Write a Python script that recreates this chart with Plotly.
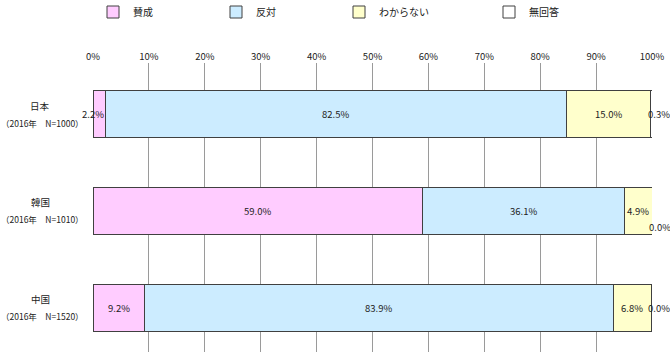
import plotly.graph_objects as go

countries = ["日本", "韓国", "中国"]
subtitles = ["（2016年　N=1000）", "（2016年　N=1010）", "（2016年　N=1520）"]
series_names = ["賛成", "反対", "わからない", "無回答"]
series_colors = ["#FFCCFF", "#CCECFF", "#FFFFCC", "#FFFFFF"]
values = {
    "賛成": [2.2, 59.0, 9.2],
    "反対": [82.5, 36.1, 83.9],
    "わからない": [15.0, 4.9, 6.8],
    "無回答": [0.3, 0.0, 0.0],
}
x_ticks = [0, 10, 20, 30, 40, 50, 60, 70, 80, 90, 100]

FONT = "Noto Sans CJK JP, Meiryo, sans-serif"
W, H = 670, 352
ML, MR, MT, MB = 93, 18, 63, 0
PW = W - ML - MR

fig = go.Figure()
legend_ids = ["legend", "legend2", "legend3", "legend4"]
legend_text_x = [133, 256, 379, 529]
ypos = list(range(len(countries)))
for i, name in enumerate(series_names):
    fig.add_trace(go.Bar(
        name=name, orientation="h", y=ypos, x=values[name],
        marker=dict(color=series_colors[i], line=dict(color="#404040", width=1)),
        width=0.485, legend=legend_ids[i], hoverinfo="x+name",
    ))

# data labels
annotations = []
for j in range(len(countries)):
    cum = 0.0
    for i, name in enumerate(series_names):
        v = values[name][j]
        center = cum + v / 2
        cum += v
        xshift, yshift = 0, 0
        if name == "賛成" and v < 5:
            xshift = -6
        if name == "無回答":
            xshift = 8
            if j == 1:
                yshift = -16
        annotations.append(dict(
            x=center, y=j, xref="x", yref="y", text=f"{v:.1f}%",
            showarrow=False, xshift=xshift, yshift=yshift,
            font=dict(family=FONT, size=9.5, color="#222222"),
        ))
    annotations.append(dict(
        x=(40 - ML) / PW, y=j, xref="paper", yref="y", xanchor="center", yanchor="middle",
        text=countries[j], showarrow=False, yshift=8.5,
        font=dict(family=FONT, size=9.5, color="#222222"),
    ))
    annotations.append(dict(
        x=(42 - ML) / PW, y=j, xref="paper", yref="y", xanchor="center", yanchor="middle",
        text=subtitles[j], showarrow=False, yshift=-8.5, borderpad=0,
        font=dict(family=FONT, size=8.5, color="#222222"),
    ))

layout_legends = {}
for i, lid in enumerate(legend_ids):
    layout_legends[lid] = dict(
        x=(legend_text_x[i] - 40) / W, xref="container", xanchor="left",
        y=1 - 12 / H, yref="container", yanchor="middle",
        orientation="h", bgcolor="rgba(0,0,0,0)",
        font=dict(family=FONT, size=10, color="#222222"),
        itemwidth=30,
    )

fig.update_layout(
    width=W, height=H,
    margin=dict(l=ML, r=MR, t=MT, b=MB, pad=0),
    paper_bgcolor="white", plot_bgcolor="white",
    barmode="stack",
    showlegend=True,
    annotations=annotations,
    xaxis=dict(
        range=[0, 100], side="top", tickvals=x_ticks,
        ticktext=[f"{t}%" for t in x_ticks],
        showgrid=True, gridcolor="#9A9A9A", gridwidth=1,
        zeroline=False, showline=False,
        ticks="", tickfont=dict(family=FONT, size=9.5, color="#222222"),
        fixedrange=True,
    ),
    yaxis=dict(
        range=[2.454, -0.526], showticklabels=False, showgrid=False,
        zeroline=False, showline=False, fixedrange=True,
    ),
    **layout_legends,
)

fig.write_html("out.html")
